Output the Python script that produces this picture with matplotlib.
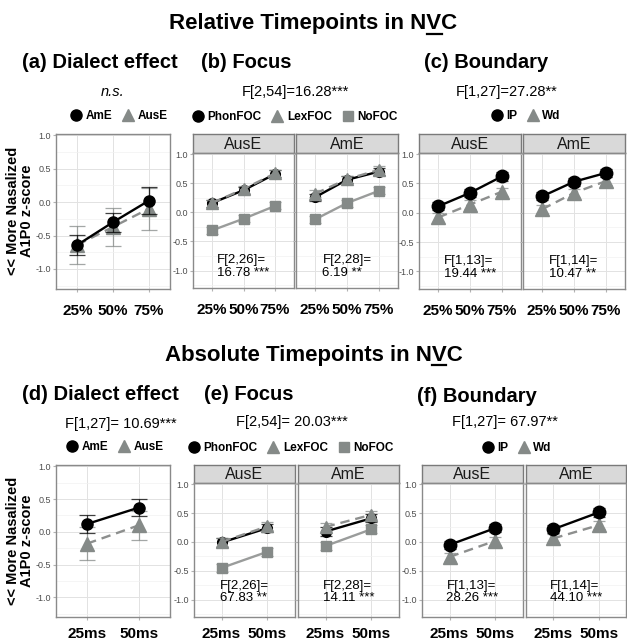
import matplotlib
matplotlib.use('Agg')
import matplotlib.pyplot as plt
from matplotlib.lines import Line2D
import numpy as np

plt.rcParams['font.family'] = ['Liberation Sans', 'DejaVu Sans']

# ---------------- data ----------------
rel_tp = ['25%', '50%', '75%']
abs_tp = ['25ms', '50ms']
dialects = ['AusE', 'AmE']

# (a) dialect effect, relative
a_AmE = [-0.64, -0.30, 0.02]
a_AmE_err = [0.155, 0.14, 0.20]
a_AusE = [-0.64, -0.37, -0.10]
a_AusE_err = [0.28, 0.28, 0.31]

# (b) focus, relative
b_Phon = {'AusE': [0.16, 0.38, 0.66], 'AmE': [0.26, 0.56, 0.70]}
b_Lex = {'AusE': [0.16, 0.40, 0.67], 'AmE': [0.32, 0.57, 0.73]}
b_No = {'AusE': [-0.31, -0.11, 0.11], 'AmE': [-0.12, 0.16, 0.37]}
b_err = 0.06

# (c) boundary, relative
c_IP = {'AusE': [0.11, 0.34, 0.62], 'AmE': [0.28, 0.53, 0.68]}
c_Wd = {'AusE': [-0.08, 0.14, 0.36], 'AmE': [0.06, 0.34, 0.54]}
c_err = 0.07

# (d) dialect effect, absolute
d_AmE = [0.12, 0.37]
d_AmE_err = [0.14, 0.125]
d_AusE = [-0.18, 0.10]
d_AusE_err = [0.25, 0.22]

# (e) focus, absolute
e_Phon = {'AusE': [-0.01, 0.24], 'AmE': [0.18, 0.41]}
e_Lex = {'AusE': [0.00, 0.27], 'AmE': [0.26, 0.47]}
e_No = {'AusE': [-0.45, -0.17], 'AmE': [-0.07, 0.22]}
e_err = 0.07

# (f) boundary, absolute
f_IP = {'AusE': [-0.05, 0.24], 'AmE': [0.22, 0.51]}
f_Wd = {'AusE': [-0.26, 0.02], 'AmE': [0.06, 0.29]}
f_err = 0.07

stats_top = ['n.s.', 'F[2,54]=16.28***', 'F[1,27]=27.28**']
stats_bot = ['F[1,27]= 10.69***', 'F[2,54]= 20.03***', 'F[1,27]= 67.97**']
facet_b = {'AusE': 'F[2,26]=\n16.78 ***', 'AmE': 'F[2,28]=\n6.19 **'}
facet_c = {'AusE': 'F[1,13]=\n19.44 ***', 'AmE': 'F[1,14]=\n10.47 **'}
facet_e = {'AusE': 'F[2,26]=\n67.83 **', 'AmE': 'F[2,28]=\n14.11 ***'}
facet_f = {'AusE': 'F[1,13]=\n28.26 ***', 'AmE': 'F[1,14]=\n44.10 ***'}

# ---------------- style ----------------
W, H = 627, 641
fig = plt.figure(figsize=(W / 100, H / 100), dpi=100)

BLACK = '#000000'
GRAY = '#858a88'
GRAYLINE = '#8d8f8e'
NOLINE = '#9a9c9b'
YLIM = (-1.3, 1.02)


def axes_px(x0, y0, x1, y1):
    return fig.add_axes([x0 / W, 1 - y1 / H, (x1 - x0) / W, (y1 - y0) / H])


def style_panel(ax, cats, show_y, xpad):
    ax.set_xlim(0.4, len(cats) + 0.6)
    ax.set_ylim(*YLIM)
    ax.set_xticks(np.arange(1, len(cats) + 1))
    ax.set_xticklabels(cats, fontweight='bold', fontsize=11)
    ax.set_yticks([-1, -0.5, 0, 0.5, 1])
    ax.set_yticks([-1.25, -0.75, -0.25, 0.25, 0.75], minor=True)
    if show_y:
        ax.set_yticklabels(['-1.0', '-0.5', '0.0', '0.5', '1.0'], fontsize=6.5, color='#4d4d4d')
    else:
        ax.set_yticklabels([])
    ax.tick_params(axis='y', which='major', length=2, color='#b3b3b3', pad=1.5)
    ax.tick_params(axis='y', which='minor', length=0)
    ax.tick_params(axis='x', length=2, color='#b3b3b3', pad=xpad)
    ax.grid(True, which='major', color='#e2e2e2', lw=0.7)
    ax.grid(True, which='minor', axis='y', color='#f1f1f1', lw=0.5)
    ax.set_axisbelow(True)
    for s in ax.spines.values():
        s.set_color('#8a8a8a')
        s.set_linewidth(1.0)


def strip(x0, y0, x1, y1, label):
    sa = axes_px(x0, y0, x1, y1)
    sa.set_facecolor('#d9d9d9')
    sa.set_xticks([])
    sa.set_yticks([])
    for s in sa.spines.values():
        s.set_color('#7a7a7a')
        s.set_linewidth(1.0)
    sa.text(0.5, 0.45, label, ha='center', va='center', fontsize=11.5,
            color='#1a1a1a', transform=sa.transAxes)


def series(ax, y, err, color, marker, ms, ls, lc, z, cap=4.5, lw=1.7):
    x = np.arange(1, len(y) + 1)
    e = err if np.ndim(err) else [err] * len(y)
    ax.errorbar(x, y, yerr=e, fmt='none', ecolor=color, elinewidth=0.9,
                capsize=cap, capthick=0.9, zorder=z, alpha=0.75)
    ax.plot(x, y, color=lc, ls=ls, lw=lw, zorder=z + 0.1)
    ax.plot(x, y, ls='none', marker=marker, ms=ms, color=color, mec=color, zorder=z + 0.2)


DASH = (0, (4, 2.5))


def legend(handles, labels, cx, cy):
    fig.legend(handles, labels, loc='center', bbox_to_anchor=(cx / W, 1 - cy / H),
               ncol=len(handles), frameon=False, prop={'weight': 'bold', 'size': 8.5},
               handlelength=0.9, handletextpad=0.35, columnspacing=0.9,
               borderpad=0, borderaxespad=0)


def h_circle(ms=8):
    return Line2D([], [], ls='none', marker='o', ms=ms, color=BLACK)


def h_tri(ms=9):
    return Line2D([], [], ls='none', marker='^', ms=ms, color=GRAY)


def h_sq(ms=7.5):
    return Line2D([], [], ls='none', marker='s', ms=ms, color=GRAY)


# ---------------- titles ----------------
renderer = fig.canvas.get_renderer()


def title_underlined(text, cy):
    kw = dict(fontsize=16, fontweight='bold')
    t = fig.text(0.5, 1 - cy / H, text, ha='center', va='center', **kw)
    bb = t.get_window_extent(renderer)
    tmp1 = fig.text(0, 0, text[:-2], **kw)
    tmp2 = fig.text(0, 0, text[:-1], **kw)
    w1 = tmp1.get_window_extent(renderer).width
    w2 = tmp2.get_window_extent(renderer).width
    tmp1.remove()
    tmp2.remove()
    x0 = bb.x0 + w1
    x1 = bb.x0 + w2
    yline = H - (cy + 10)
    fig.add_artist(Line2D([x0 / W, x1 / W], [yline / H, yline / H], color='black',
                          lw=1.6, transform=fig.transFigure))


title_underlined('Relative Timepoints in NVC', 24)
title_underlined('Absolute Timepoints in NVC', 355)

head_kw = dict(fontsize=14.5, fontweight='bold', va='center', ha='left')
fig.text(22 / W, 1 - 62 / H, '(a) Dialect effect', **head_kw)
fig.text(201 / W, 1 - 62 / H, '(b) Focus', **head_kw)
fig.text(424 / W, 1 - 63 / H, '(c) Boundary', **head_kw)
fig.text(22 / W, 1 - 394 / H, '(d) Dialect effect', **head_kw)
fig.text(204 / W, 1 - 395 / H, '(e) Focus', **head_kw)
fig.text(417 / W, 1 - 396 / H, '(f) Boundary', **head_kw)

st_kw = dict(fontsize=10.5, va='center', ha='center')
fig.text(113 / W, 1 - 92 / H, stats_top[0], style='italic', **st_kw)
fig.text(295 / W, 1 - 92 / H, stats_top[1], **st_kw)
fig.text(507 / W, 1 - 92 / H, stats_top[2], **st_kw)
fig.text(121 / W, 1 - 424 / H, stats_bot[0], **st_kw)
fig.text(292 / W, 1 - 422 / H, stats_bot[1], **st_kw)
fig.text(505 / W, 1 - 422 / H, stats_bot[2], **st_kw)

# legends
legend([h_circle(), h_tri()], ['AmE', 'AusE'], 119, 116)
legend([h_circle(), h_tri(), h_sq()], ['PhonFOC', 'LexFOC', 'NoFOC'], 295, 117)
legend([h_circle(), h_tri()], ['IP', 'Wd'], 526, 116)
legend([h_circle(), h_tri()], ['AmE', 'AusE'], 115, 447)
legend([h_circle(), h_tri(), h_sq()], ['PhonFOC', 'LexFOC', 'NoFOC'], 291, 448)
legend([h_circle(), h_tri()], ['IP', 'Wd'], 517, 448)

# y axis labels
for cy in (211, 541):
    fig.text(13 / W, 1 - cy / H, '<< More Nasalized', rotation=90, ha='center', va='center',
             fontsize=10.5, fontweight='bold')
    fig.text(27 / W, 1 - cy / H, 'A1P0 z-score', rotation=90, ha='center', va='center',
             fontsize=10.5, fontweight='bold')

# ---------------- (a) ----------------
ax = axes_px(56, 134, 170, 289)
style_panel(ax, rel_tp, True, 9)
series(ax, a_AmE, a_AmE_err, BLACK, 'o', 8, '-', BLACK, 3, cap=5.5)
series(ax, a_AusE, a_AusE_err, GRAY, '^', 9.5, DASH, GRAYLINE, 2, cap=5.5)

# ---------------- (d) ----------------
ax = axes_px(56, 465, 170, 617)
style_panel(ax, abs_tp, True, 5)
series(ax, d_AmE, d_AmE_err, BLACK, 'o', 8, '-', BLACK, 3, cap=5.5)
series(ax, d_AusE, d_AusE_err, GRAY, '^', 9.5, DASH, GRAYLINE, 2, cap=5.5)

# ---------------- facet panels ----------------
def focus_panels(xs, ytop, ystrip, ybot, cats, phon, lex, no, err, txt, ty, xpad, lsp):
    for i, d in enumerate(dialects):
        x0, x1 = xs[i]
        strip(x0, ytop, x1, ystrip, d)
        ax = axes_px(x0, ystrip, x1, ybot)
        style_panel(ax, cats, i == 0, xpad)
        series(ax, no[d], err, GRAY, 's', 7.5, '-', NOLINE, 2)
        series(ax, phon[d], err, BLACK, 'o', 7, '-', BLACK, 3)
        series(ax, lex[d], err, GRAY, '^', 8.5, DASH, GRAYLINE, 4)
        ax.text((len(cats) + 1) / 2, ty, txt[d], ha='center', va='center',
                multialignment='left', fontsize=9.5, linespacing=lsp)


def boundary_panels(xs, ytop, ystrip, ybot, cats, ip, wd, err, txt, ty, xpad, lsp):
    for i, d in enumerate(dialects):
        x0, x1 = xs[i]
        strip(x0, ytop, x1, ystrip, d)
        ax = axes_px(x0, ystrip, x1, ybot)
        style_panel(ax, cats, i == 0, xpad)
        series(ax, wd[d], err, GRAY, '^', 10, DASH, GRAYLINE, 2)
        series(ax, ip[d], err, BLACK, 'o', 9, '-', BLACK, 3)
        ax.text((len(cats) + 1) / 2, ty, txt[d], ha='center', va='center',
                multialignment='left', fontsize=9.5, linespacing=lsp)


focus_panels([(193, 294), (296, 398)], 134, 153, 288, rel_tp, b_Phon, b_Lex, b_No, b_err,
             facet_b, -0.93, 9, 1.15)
boundary_panels([(419, 521), (523, 625)], 134, 153, 289, rel_tp, c_IP, c_Wd, c_err,
                facet_c, -0.93, 9, 1.15)
focus_panels([(194, 295), (298, 399)], 465, 483, 617, abs_tp, e_Phon, e_Lex, e_No, e_err,
             facet_e, -0.87, 5, 0.95)
boundary_panels([(422, 523), (526, 626)], 465, 483, 617, abs_tp, f_IP, f_Wd, f_err,
                facet_f, -0.87, 5, 0.95)

fig.savefig('out.png', dpi=100)
